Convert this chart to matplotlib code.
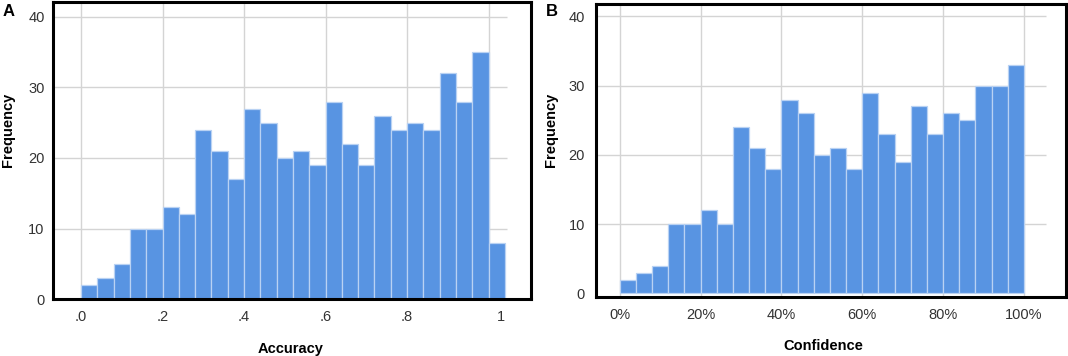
import matplotlib
matplotlib.use("Agg")
import matplotlib.pyplot as plt
import matplotlib.transforms as mtransforms
import numpy as np

plt.rcParams["font.family"] = ["Liberation Sans", "DejaVu Sans"]

# Panel A: accuracy histogram (bins of width .04 starting at 0)
acc_counts = [2, 3, 5, 10, 10, 13, 12, 24, 21, 17, 27, 25, 20,
              21, 19, 28, 22, 19, 26, 24, 25, 24, 32, 28, 35, 8]
acc_bin_width = 0.04
acc_ticks = [0.0, 0.2, 0.4, 0.6, 0.8, 1.0]
acc_ticklabels = [".0", ".2", ".4", ".6", ".8", "1"]

# Panel B: confidence histogram (bins of width 4% starting at 0%)
conf_counts = [2, 3, 4, 10, 10, 12, 10, 24, 21, 18, 28, 26, 20,
               21, 18, 29, 23, 19, 27, 23, 26, 25, 30, 30, 33]
conf_bin_width = 4
conf_ticks = [0, 20, 40, 60, 80, 100]
conf_ticklabels = ["0%", "20%", "40%", "60%", "80%", "100%"]

freq_ticks = [0, 10, 20, 30, 40]

BAR_COLOR = "#5894e2"
EDGE_COLOR = "#b9d2f3"
GRID_COLOR = "#d4d4d4"
TICK_COLOR = "#333333"

fig = plt.figure(figsize=(10.68, 3.56), dpi=100)
ax_a = fig.add_axes([0.0496, 0.160, 0.4476, 0.834])
ax_b = fig.add_axes([0.558, 0.166, 0.440, 0.823])


def draw_panel(ax, counts, width, xticks, xlabels, xlim, ylim, hline_end, xlabel, ycoords, xcoords, ypad):
    starts = np.arange(len(counts)) * width
    ax.bar(starts, counts, width=width, align="edge", color=BAR_COLOR,
           edgecolor=EDGE_COLOR, linewidth=0.9, zorder=3)
    ax.set_xlim(*xlim)
    ax.set_ylim(*ylim)
    ax.set_xticks(xticks)
    ax.set_xticklabels(xlabels)
    ax.set_yticks(freq_ticks)
    ax.grid(axis="x", color=GRID_COLOR, linewidth=1.0, zorder=0)
    ax.hlines(freq_ticks[1:], xlim[0], hline_end, color=GRID_COLOR, linewidth=1.0, zorder=0)
    ax.tick_params(axis="both", length=0, labelsize=10.5, labelcolor=TICK_COLOR)
    ax.tick_params(axis="x", pad=8)
    ax.tick_params(axis="y", pad=ypad)
    for sp in ax.spines.values():
        sp.set_linewidth(2.2)
        sp.set_color("black")
        sp.set_zorder(5)
    ax.set_ylabel("Frequency", fontsize=10.5, fontweight="bold", va="center")
    ax.yaxis.set_label_coords(*ycoords)
    ax.set_xlabel(xlabel, fontsize=10.5, fontweight="bold", va="center")
    ax.xaxis.set_label_coords(*xcoords)


draw_panel(ax_a, acc_counts, acc_bin_width, acc_ticks, acc_ticklabels,
           (-0.0687, 1.104), (0, 42.1), 1.045, "Accuracy",
           (-0.094, 0.57), (0.498, -0.168), 6)
draw_panel(ax_b, conf_counts, conf_bin_width, conf_ticks, conf_ticklabels,
           (-5.9, 110.4), (-0.5, 41.8), 105.4, "Confidence",
           (-0.096, 0.57), (0.483, -0.167), 8)

# the "1" label sits a bit right of its gridline in the original
last = ax_a.get_xticklabels()[-1]
last.set_transform(last.get_transform() + mtransforms.ScaledTranslation(0.12, 0, fig.dpi_scale_trans))

fig.text(3 / 1068, 1 - 12 / 356, "A", fontsize=12, fontweight="bold", va="center", ha="left")
fig.text(546 / 1068, 1 - 12 / 356, "B", fontsize=12, fontweight="bold", va="center", ha="left")

fig.savefig("out.png", dpi=100)
